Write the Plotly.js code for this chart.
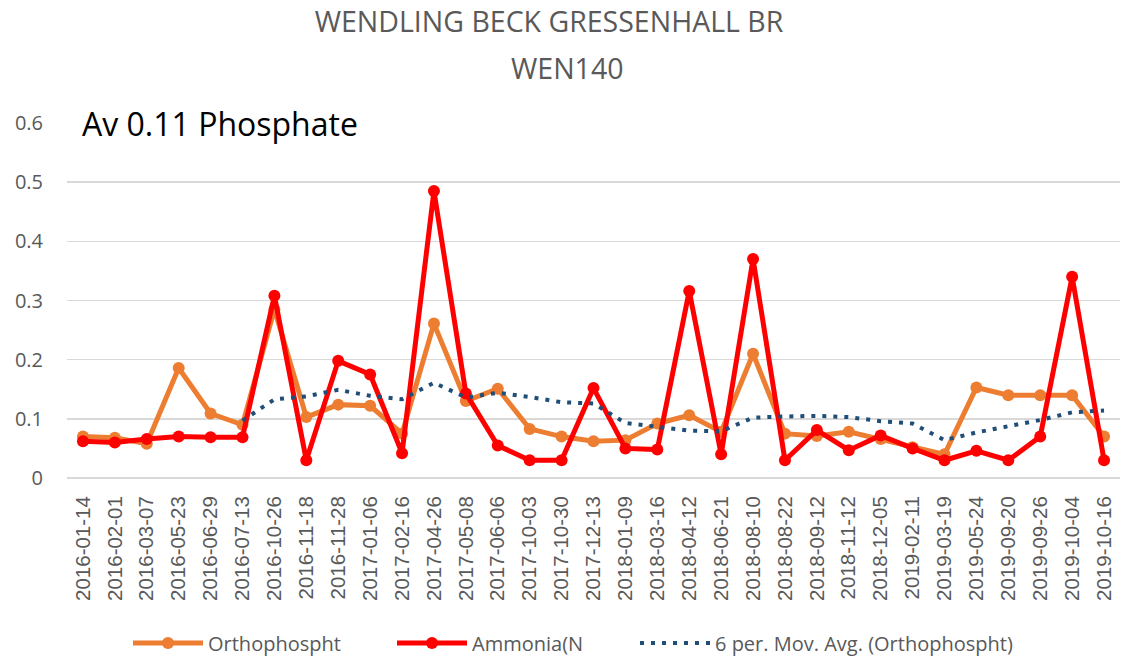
<!DOCTYPE html>
<html>
<head>
<meta charset="utf-8">
<script src="https://cdn.plot.ly/plotly-3.0.1.min.js"></script>
<style>html,body{margin:0;padding:0;background:#fff;}#chart{width:1122px;height:663px;}</style>
</head>
<body>
<div id="chart"></div>
<script>
const dates = ["2016-01-14","2016-02-01","2016-03-07","2016-05-23","2016-06-29","2016-07-13","2016-10-26","2016-11-18","2016-11-28","2017-01-06","2017-02-16","2017-04-26","2017-05-08","2017-06-06","2017-10-03","2017-10-30","2017-12-13","2018-01-09","2018-03-16","2018-04-12","2018-06-21","2018-08-10","2018-08-22","2018-09-12","2018-11-12","2018-12-05","2019-02-11","2019-03-19","2019-05-24","2019-09-20","2019-09-26","2019-10-04","2019-10-16"];
const orthophosphate = [0.070,0.068,0.058,0.186,0.109,0.090,0.285,0.103,0.124,0.122,0.075,0.261,0.130,0.151,0.083,0.070,0.062,0.064,0.092,0.106,0.078,0.210,0.075,0.071,0.078,0.066,0.052,0.040,0.153,0.140,0.140,0.140,0.070];
const ammonia = [0.062,0.060,0.066,0.070,0.069,0.069,0.308,0.030,0.198,0.175,0.042,0.485,0.143,0.055,0.030,0.030,0.152,0.050,0.048,0.316,0.040,0.370,0.030,0.081,0.047,0.072,0.050,0.030,0.046,0.030,0.070,0.340,0.030];
const movAvg = [null,null,null,null,null,0.097,0.133,0.138,0.149,0.139,0.133,0.161,0.136,0.144,0.137,0.128,0.126,0.093,0.087,0.080,0.079,0.102,0.104,0.105,0.103,0.096,0.092,0.064,0.077,0.088,0.098,0.111,0.114];
const yTicks = [0,0.1,0.2,0.3,0.4,0.5,0.6];
const yTickLabels = ["0","0.1","0.2","0.3","0.4","0.5","0.6"];
const titleLine1 = "WENDLING BECK GRESSENHALL BR";
const titleLine2 = "WEN140";
const noteText = "Av 0.11 Phosphate";

const font = "Open Sans, Liberation Sans, sans-serif";
const grey = "#595959";
const traces = [
  {x: dates, y: orthophosphate, name: "Orthophospht", type: "scatter", mode: "lines+markers", legend: "legend",
   line: {color: "#ED7D31", width: 5}, marker: {color: "#ED7D31", size: 12}},
  {x: dates, y: ammonia, name: "Ammonia(N", type: "scatter", mode: "lines+markers", legend: "legend2",
   line: {color: "#FF0000", width: 5}, marker: {color: "#FF0000", size: 12}},
  {x: dates, y: movAvg, name: "6 per. Mov. Avg. (Orthophospht)", type: "scatter", mode: "lines", legend: "legend3",
   line: {color: "#1F4E79", width: 4, dash: "4px,7px"}, connectgaps: false}
];
function leg(px) {
  return {orientation: "h", x: (px-67)/1053, xanchor: "left", y: -165/355, yanchor: "middle",
          font: {size: 20, color: grey}, itemwidth: 70, bgcolor: "rgba(0,0,0,0)"};
}
const layout = {
  width: 1122, height: 663,
  margin: {l: 67, r: 2, t: 123, b: 185, autoexpand: false},
  paper_bgcolor: "#fff", plot_bgcolor: "#fff",
  font: {family: font, color: grey, size: 16},
  title: {text: titleLine1, x: 549/1122, xanchor: "center", xref: "container", yref: "container", y: 1 - 22/663, yanchor: "middle",
          font: {family: font, size: 28.5, color: grey}},
  xaxis: {type: "category", tickangle: -90, tickfont: {family: "Liberation Sans, Arial, sans-serif", size: 20.5, color: grey},
          showgrid: false, showline: false, ticks: "", range: [-0.5, 32.5], fixedrange: true, automargin: false,
          ticklabelstandoff: 13},
  yaxis: {range: [0, 0.6], tickvals: yTicks, ticktext: yTickLabels, showgrid: true, gridcolor: "#D9D9D9", gridwidth: 1.5,
          zeroline: true, zerolinecolor: "#D9D9D9", zerolinewidth: 1.5, showline: false, ticks: "", automargin: false,
          tickfont: {size: 20, color: grey}, ticklabelstandoff: 23},
  showlegend: true,
  legend: leg(128),
  legend2: leg(392),
  legend3: leg(635),
  annotations: [
    {text: titleLine2, xref: "paper", yref: "paper", x: (567-67)/1053, y: (478-68)/355, xanchor: "center", yanchor: "middle",
     showarrow: false, font: {family: font, size: 28.5, color: grey}},
    {text: noteText, xref: "paper", yref: "paper", x: 0.012, y: 1.0, xanchor: "left", yanchor: "middle",
     showarrow: false, font: {family: font, size: 32, color: "#000"}}
  ]
};
Plotly.newPlot("chart", traces, layout, {staticPlot: true, displayModeBar: false});
</script>
</body>
</html>
